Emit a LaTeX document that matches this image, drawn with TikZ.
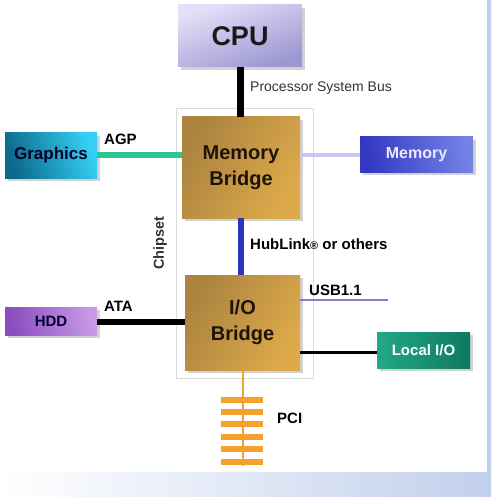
\documentclass[tikz,border=0pt]{standalone}
\usepackage{fontspec}
\setmainfont{Liberation Sans}
\usetikzlibrary{shadows}
\definecolor{cpuL}{HTML}{E4E0F8}
\definecolor{cpuD}{HTML}{9C96D2}
\definecolor{goldL}{HTML}{F2CA6C}
\definecolor{goldD}{HTML}{AC8440}
\definecolor{goldR}{HTML}{DDAA4A}
\definecolor{gfxL}{HTML}{36CFF4}
\definecolor{gfxD}{HTML}{0B6A8C}
\definecolor{memL}{HTML}{7482E6}
\definecolor{memD}{HTML}{3238C4}
\definecolor{hddL}{HTML}{C89AE6}
\definecolor{hddD}{HTML}{8A4CBE}
\definecolor{lioL}{HTML}{22A886}
\definecolor{lioD}{HTML}{0E7A62}
\definecolor{agpC}{HTML}{2CC495}
\definecolor{memlink}{HTML}{C9C9EE}
\definecolor{hubC}{HTML}{2F33C2}
\definecolor{usbC}{HTML}{9474D6}
\definecolor{pciC}{HTML}{F4A22E}
\definecolor{bgR}{HTML}{C2D0EC}
\tikzset{
  box/.style={inner sep=0pt, align=center,
    drop shadow={shadow xshift=3pt, shadow yshift=-3pt, fill=black!35}},
  bridge/.style={box, left color=goldD, middle color=goldL, right color=goldR,
    shading angle=60, minimum width=118pt, text=black!85!brown,
    font=\fontsize{20}{26}\selectfont\bfseries},
  lbl/.style={anchor=west, inner sep=0pt, font=\fontsize{15}{15}\selectfont\bfseries}
}
\begin{document}
\begin{tikzpicture}[x=1pt,y=-1pt, line join=round]
  \useasboundingbox (0,0) rectangle (491,497);
  %% background
  \fill[left color=white, middle color=white, right color=bgR] (0,0) rectangle (491,497);
  \fill[white] (0,0) rectangle (487,472);
  %% chipset frame
  \draw[black!14, line width=0.8pt] (176,108) rectangle (313,378);
  \node[rotate=90, font=\fontsize{14.5}{14.5}\selectfont\bfseries, text=black!80] (chipset) at (160,243) {Chipset};
  %% boxes
  \node[box, top color=cpuL, bottom color=cpuD, shading angle=20, minimum width=124pt, minimum height=62pt,
    font=\fontsize{27}{27}\selectfont\bfseries, text=black!90] (cpu) at (240,36) {CPU};
  \node[bridge, minimum height=101pt] (mb) at (241,167.5) {Memory\\Bridge};
  \node[bridge, minimum width=115pt, minimum height=95pt] (iob) at (242.5,322.5) {I/O\\Bridge};
  \node[box, left color=gfxD, right color=gfxL, shading angle=110, minimum width=92pt, minimum height=45pt,
    font=\fontsize{17}{17}\selectfont\bfseries, text=black!85!blue] (gfx) at (51,155.5) {Graphics};
  \node[box, left color=memD, right color=memL, shading angle=100, minimum width=113pt, minimum height=35pt,
    font=\fontsize{16}{16}\selectfont\bfseries, text=white!92!blue] (mem) at (416.5,154.5) {Memory};
  \node[box, left color=hddD, right color=hddL, shading angle=100, minimum width=92pt, minimum height=28pt,
    font=\fontsize{15}{15}\selectfont\bfseries, text=black!80!blue] (hdd) at (51,321) {HDD};
  \node[box, left color=lioL, right color=lioD, minimum width=93pt, minimum height=36pt,
    font=\fontsize{15}{15}\selectfont\bfseries, text=white] (lio) at (423.5,350) {Local I/O};
  %% buses
  \draw[line width=7pt] (cpu.south) -- (cpu.south |- mb.north);
  \draw[agpC, line width=6pt] (gfx.east |- 0,155) -- (mb.west |- 0,155);
  \draw[memlink, line width=4pt] (mb.east |- 0,155) -- (mem.west |- 0,155);
  \draw[hubC, line width=6pt] (mb.south) -- (mb.south |- iob.north);
  \coordinate (usbend) at (388,300);
  \draw[usbC, line width=2.5pt] (iob.east |- usbend) -- (usbend);
  \draw[line width=6pt] (hdd.east |- 0,322) -- (iob.west |- 0,322);
  \draw[line width=3pt] (lio.west |- 0,352) -- (iob.east |- 0,352);
  \coordinate (pcibot) at (243,466);
  \draw[pciC, line width=1.5pt] (iob.south -| pcibot) -- (pcibot);
  \foreach \y in {400,412,424,437,449,462}
    \fill[pciC] (221,\y-2.8) rectangle (263,\y+2.8);
  %% labels
  \node[anchor=west, inner sep=0pt, font=\fontsize{14}{14}\selectfont, text=black!80] (psb) at (250,88) {Processor System Bus};
  \node[lbl] (agp) at (104,139) {AGP};
  \node[lbl] (hub) at (250,244) {HubLink{\fontsize{11}{11}\selectfont ®} or others};
  \node[lbl] (usb) at (309,290) {USB1.1};
  \node[lbl] (ata) at (104,306) {ATA};
  \node[lbl] (pci) at (277,418) {PCI};
\end{tikzpicture}
\end{document}
